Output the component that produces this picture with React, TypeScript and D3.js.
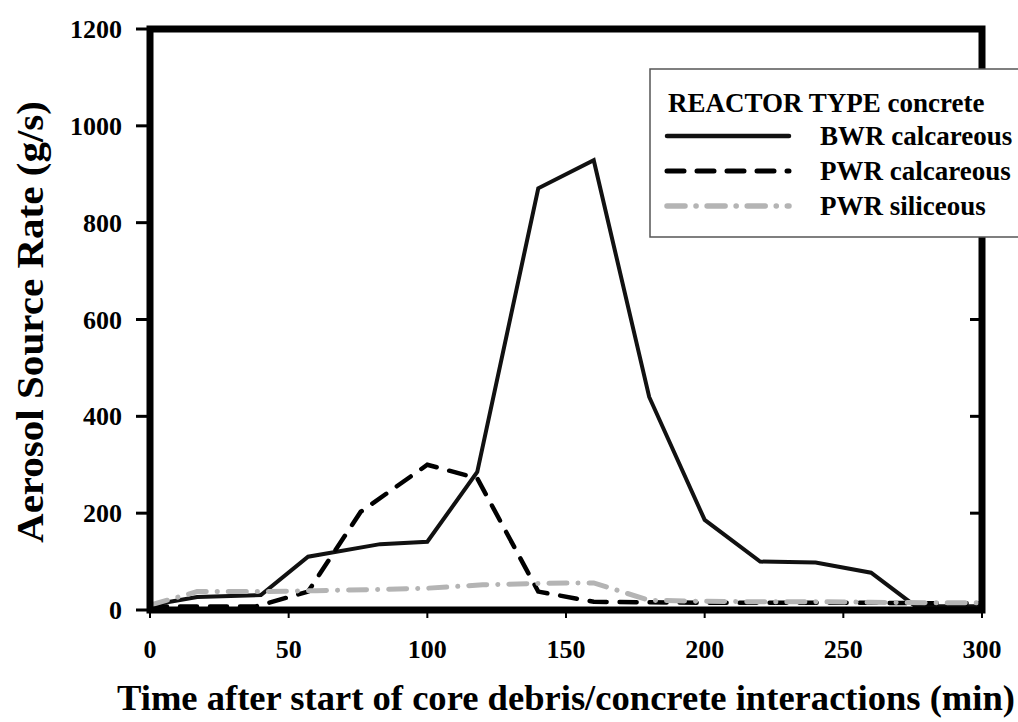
import * as d3 from "d3";

const bwrTimes = [0, 17, 40, 57, 83, 100, 118, 140, 160, 180, 200, 220, 240, 260, 276, 300];
const bwrValues = [10, 27, 31, 110, 136, 141, 285, 871, 929, 440, 186, 100, 98, 77, 8, 8];

const pwrCalcTimes = [0, 17, 38, 57, 76, 100, 118, 140, 160, 180, 200, 220, 240, 260, 280, 300];
const pwrCalcValues = [7, 7, 7, 38, 203, 300, 272, 38, 17, 16, 15, 15, 15, 15, 14, 14];

const pwrSilTimes = [0, 17, 40, 60, 80, 100, 120, 140, 160, 180, 200, 220, 240, 260, 280, 300];
const pwrSilValues = [10, 38, 38, 40, 42, 45, 52, 55, 56, 20, 18, 17, 17, 16, 15, 15];

const xTicks = [0, 50, 100, 150, 200, 250, 300];
const yTicks = [0, 200, 400, 600, 800, 1000, 1200];

const series = [
  { name: "BWR calcareous", times: bwrTimes, values: bwrValues, color: "#111", width: 4, dash: "none" },
  { name: "PWR calcareous", times: pwrCalcTimes, values: pwrCalcValues, color: "#000", width: 4.5, dash: "17 13" },
  { name: "PWR siliceous", times: pwrSilTimes, values: pwrSilValues, color: "#b4b4b4", width: 5, dash: "18 11 0.1 11" },
];

const font = "'Liberation Serif', 'Times New Roman', Times, serif";

export default function App() {
  const width = 1018;
  const height = 722;
  const left = 150;
  const right = 982;
  const top = 29;
  const bottom = 610;

  const x = d3.scaleLinear().domain([0, 300]).range([left, right]);
  const y = d3.scaleLinear().domain([0, 1200]).range([bottom, top]);

  const line = d3
    .line<[number, number]>()
    .x((d) => x(d[0]))
    .y((d) => y(d[1]));

  return (
    <div style={{ position: "absolute", left: 0, top: 0 }}>
      <svg width={width} height={height} style={{ display: "block", background: "#fff" }} fontFamily={font} fontWeight="bold">
        {/* data lines */}
        {series.map((s) => (
          <path
            key={s.name}
            d={line(s.times.map((t, i) => [t, s.values[i]] as [number, number])) || ""}
            fill="none"
            stroke={s.color}
            strokeWidth={s.width}
            strokeDasharray={s.dash}
            strokeLinecap={s.dash === "none" ? "butt" : "round"}
            strokeLinejoin="miter"
          />
        ))}

        {/* frame */}
        <rect x={left} y={top} width={right - left} height={bottom - top} fill="none" stroke="#000" strokeWidth={7} />

        {/* y ticks */}
        {yTicks.map((t) => (
          <g key={t}>
            <line x1={left - 14} x2={left} y1={y(t)} y2={y(t)} stroke="#000" strokeWidth={3} />
            <line x1={right - 12} x2={right} y1={y(t)} y2={y(t)} stroke="#000" strokeWidth={3} />
            <text x={122} y={y(t)} dy="0.35em" textAnchor="end" fontSize={26}>
              {t}
            </text>
          </g>
        ))}

        {/* x ticks */}
        {xTicks.map((t) => (
          <g key={t}>
            <line x1={x(t)} x2={x(t)} y1={bottom} y2={bottom + 8} stroke="#000" strokeWidth={2} />
            <text x={x(t)} y={658} textAnchor="middle" fontSize={26}>
              {t}
            </text>
          </g>
        ))}

        {/* axis titles */}
        <text
          x={566}
          y={710}
          textAnchor="middle"
          fontSize={36}
          textLength={898}
          lengthAdjust="spacingAndGlyphs"
        >
          Time after start of core debris/concrete interactions (min)
        </text>
        <text
          transform="translate(43,322) rotate(-90)"
          textAnchor="middle"
          fontSize={38}
          textLength={442}
          lengthAdjust="spacingAndGlyphs"
        >
          Aerosol Source Rate (g/s)
        </text>

        {/* legend */}
        <rect x={650} y={69} width={400} height={168} fill="#fff" stroke="#555" strokeWidth={1.5} />
        <text x={668} y={112} fontSize={27}>
          REACTOR TYPE concrete
        </text>
        {series.map((s, i) => {
          const ly = 136 + i * 35;
          return (
            <g key={s.name}>
              <line
                x1={667}
                x2={789}
                y1={ly}
                y2={ly}
                stroke={s.color}
                strokeWidth={s.width + 0.5}
                strokeDasharray={s.dash}
                strokeLinecap="round"
              />
              <text x={820} y={ly + 9} fontSize={27}>
                {s.name}
              </text>
            </g>
          );
        })}
      </svg>
    </div>
  );
}
